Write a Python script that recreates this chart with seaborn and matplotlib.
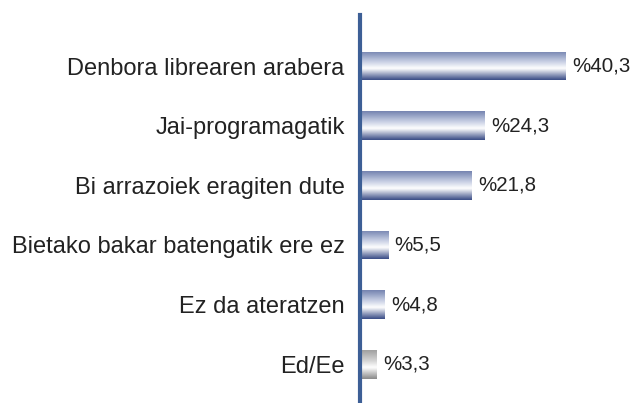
import numpy as np
import pandas as pd
import matplotlib
matplotlib.use("Agg")
import matplotlib.pyplot as plt
from matplotlib.colors import LinearSegmentedColormap
import seaborn as sns

categories = ["Denbora librearen arabera", "Jai-programagatik",
              "Bi arrazoiek eragiten dute", "Bietako bakar batengatik ere ez",
              "Ez da ateratzen", "Ed/Ee"]
values = [40.3, 24.3, 21.8, 5.5, 4.8, 3.3]
labels = ["%40,3", "%24,3", "%21,8", "%5,5", "%4,8", "%3,3"]

df = pd.DataFrame({"cat": categories, "val": values})

sns.set_style("white")
plt.rcParams['font.family'] = ['Liberation Sans', 'DejaVu Sans']

fig = plt.figure(figsize=(6.37, 4.03), dpi=100)
ax = fig.add_axes([360 / 637, 0, 1 - 360 / 637, 1 - 15 / 403])

sns.barplot(data=df, x="val", y="cat", ax=ax, color="#5a6ea0", width=0.48, orient="h")

blue = LinearSegmentedColormap.from_list("b", [(0, "#7584b0"), (0.35, "#c5cde2"),
                                               (0.6, "#ffffff"), (1, "#3a4c86")])
gray = LinearSegmentedColormap.from_list("g", [(0, "#a0a0a0"), (0.35, "#d2d2d2"),
                                               (0.6, "#ffffff"), (1, "#8a8a8a")])
grad = np.linspace(0, 1, 64).reshape(-1, 1)
for i, p in enumerate(ax.patches):
    x0, y0 = p.get_x(), p.get_y()
    w, h = p.get_width(), p.get_height()
    cm = gray if categories[i] == "Ed/Ee" else blue
    # y axis inverted: image row 0 at top
    im = ax.imshow(grad, cmap=cm, aspect="auto", extent=[x0, x0 + w, y0 + h, y0],
                   zorder=p.get_zorder() + 1, interpolation="bicubic")
    im.set_clip_path(p)
    ax.text(x0 + w + 1.3, y0 + h / 2, labels[i], va="center", ha="left",
            fontsize=14.8, color="#222222")

ax.set_xlim(0, (637 - 360) / 5.11)
ax.set_ylim(5.65, -0.856)
ax.set_xlabel("")
ax.set_ylabel("")
ax.set_xticks([])
ax.tick_params(axis="y", length=0, pad=11, labelsize=17, labelcolor="#222222")
for s in ["top", "right", "bottom"]:
    ax.spines[s].set_visible(False)
ax.spines["left"].set_color("#3d5f96")
ax.spines["left"].set_linewidth(3)
ax.spines["left"].set_zorder(10)

fig.savefig("out.png", dpi=100)
